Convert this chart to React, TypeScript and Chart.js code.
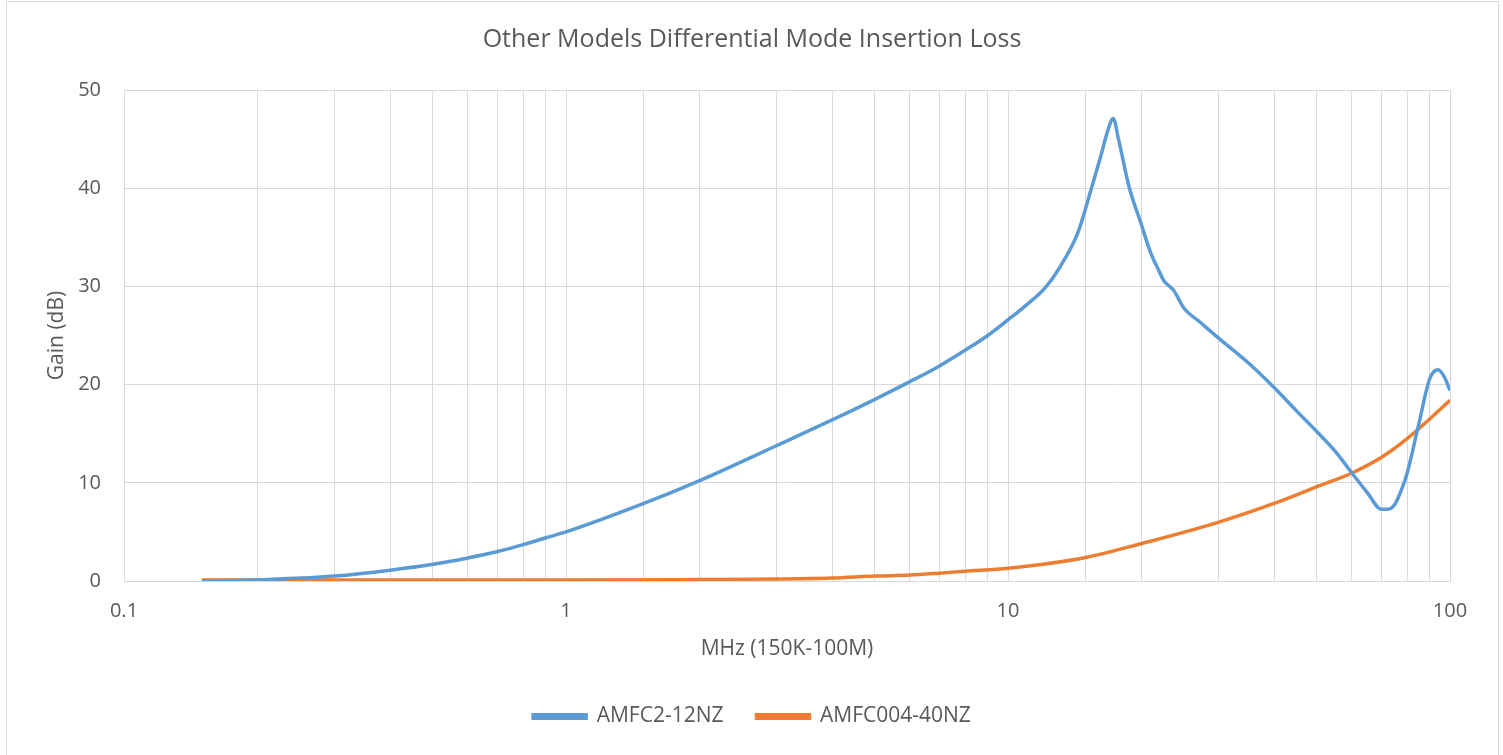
import React, { useEffect, useRef } from "react";
import { Chart, registerables } from "chart.js";

Chart.register(...registerables);

const chartTitle = "Other Models Differential Mode Insertion Loss";
const xAxisTitle = "MHz (150K-100M)";
const yAxisTitle = "Gain (dB)";
const seriesNames = ["AMFC2-12NZ", "AMFC004-40NZ"];
const seriesColors = ["#5B9BD5", "#ED7D31"];

const blueFreq = [0.15, 0.2, 0.25, 0.3, 0.4, 0.5, 0.6, 0.7, 0.8, 0.9, 1.0, 1.5, 2.0, 3.0, 4.0, 5.0, 6.0, 7.0, 8.0, 9.0, 10, 11, 12.1, 13.2, 14.4, 15.4, 16.2, 16.8, 17.3, 17.8, 18.8, 20, 21, 22, 22.5, 23.7, 25, 27.3, 30, 35, 40, 45, 50, 55, 60, 65, 70, 72, 75, 78, 80, 85, 90, 94, 97, 100];
const blueGain = [0.0, 0.1, 0.3, 0.5, 1.1, 1.7, 2.35, 3.0, 3.7, 4.4, 5.0, 7.9, 10.2, 13.8, 16.4, 18.5, 20.3, 21.9, 23.5, 25.0, 26.6, 28.1, 29.8, 32.2, 35.5, 39.8, 43.2, 45.8, 47.1, 44.9, 40.1, 36.4, 33.5, 31.5, 30.6, 29.6, 27.8, 26.3, 24.7, 22.2, 19.7, 17.3, 15.2, 13.2, 11.0, 9.0, 7.3, 7.3, 7.8, 9.5, 11.0, 16.0, 20.6, 21.5, 20.8, 19.4];

const orangeFreq = [0.15, 0.5, 1, 2, 3, 4, 5, 6, 7, 8, 10, 15, 20, 30, 40, 50, 60, 70, 80, 90, 100];
const orangeGain = [0.1, 0.1, 0.1, 0.15, 0.2, 0.3, 0.5, 0.6, 0.8, 1.0, 1.3, 2.4, 3.8, 6.0, 7.9, 9.6, 11.0, 12.6, 14.5, 16.5, 18.4];

const xMajorLabels = ["0.1", "1", "10", "100"];
const yTicks = [0, 10, 20, 30, 40, 50];

const FONT = "'Open Sans', sans-serif";
const TEXT = "#595959";
const GRID = "#d9d9d9";

export default function App() {
  const ref = useRef<HTMLCanvasElement | null>(null);

  useEffect(() => {
    if (!ref.current) return;
    const chart = new Chart(ref.current, {
      type: "line",
      data: {
        datasets: [
          {
            label: seriesNames[0],
            data: blueFreq.map((f, i) => ({ x: f, y: blueGain[i] })),
            borderColor: seriesColors[0],
            backgroundColor: seriesColors[0],
            borderWidth: 3.5,
            pointRadius: 0,
            cubicInterpolationMode: "monotone",
          },
          {
            label: seriesNames[1],
            data: orangeFreq.map((f, i) => ({ x: f, y: orangeGain[i] })),
            borderColor: seriesColors[1],
            backgroundColor: seriesColors[1],
            borderWidth: 3.5,
            pointRadius: 0,
            cubicInterpolationMode: "monotone",
          },
        ],
      },
      options: {
        responsive: false,
        animation: false,
        devicePixelRatio: 1,
        layout: { padding: { left: 54, right: 53, top: 0, bottom: 18 } },
        plugins: {
          title: {
            display: true,
            text: chartTitle,
            color: TEXT,
            font: { family: FONT, size: 25, weight: "normal", lineHeight: 1.2 },
            padding: { top: 25, bottom: 35 },
          },
          legend: {
            display: true,
            position: "bottom",
            labels: {
              color: TEXT,
              font: { family: FONT, size: 21, lineHeight: 1.2 },
              boxWidth: 53,
              boxHeight: 3.5,
              padding: 33,
            },
          },
          tooltip: { enabled: false },
        },
        scales: {
          x: {
            type: "logarithmic",
            min: 0.1,
            max: 100,
            afterFit: (s: any) => {
              s.height = 92;
            },
            grid: { color: GRID, lineWidth: 1, drawTicks: false },
            border: { color: GRID },
            ticks: {
              color: TEXT,
              font: { family: FONT, size: 20, lineHeight: 1.2 },
              padding: 18,
              autoSkip: false,
              maxRotation: 0,
              callback: (v: any) => {
                const l = Math.log10(Number(v));
                if (Math.abs(l - Math.round(l)) < 1e-6) {
                  return xMajorLabels[Math.round(l) + 1] ?? "";
                }
                return "";
              },
            },
            title: {
              display: true,
              text: xAxisTitle,
              color: TEXT,
              font: { family: FONT, size: 21, lineHeight: 1.2 },
              padding: { top: 0, bottom: 11 },
            },
          },
          y: {
            min: 0,
            max: 50,
            afterFit: (s: any) => {
              s.width = 70;
            },
            afterBuildTicks: (s: any) => {
              s.ticks = yTicks.map((v) => ({ value: v }));
            },
            grid: { color: GRID, lineWidth: 1, drawTicks: false },
            border: { color: GRID },
            ticks: {
              color: TEXT,
              font: { family: FONT, size: 20, lineHeight: 1.2 },
              padding: 23,
            },
            title: {
              display: true,
              text: yAxisTitle,
              color: TEXT,
              font: { family: FONT, size: 21, lineHeight: 1.2 },
              padding: { top: -9.6, bottom: 0 },
            },
          },
        },
      },
    });
    return () => chart.destroy();
  }, []);

  return (
    <div style={{ position: "absolute", left: 0, top: 0, width: 1503, height: 755, background: "#fff", overflow: "hidden" }}>
      <div style={{ position: "absolute", left: 6, top: 1, width: 1493, height: 770, border: "1px solid #d9d9d9", boxSizing: "border-box" }} />
      <canvas ref={ref} width={1503} height={755} style={{ position: "absolute", left: 0, top: 0, width: 1503, height: 755 }} />
    </div>
  );
}
